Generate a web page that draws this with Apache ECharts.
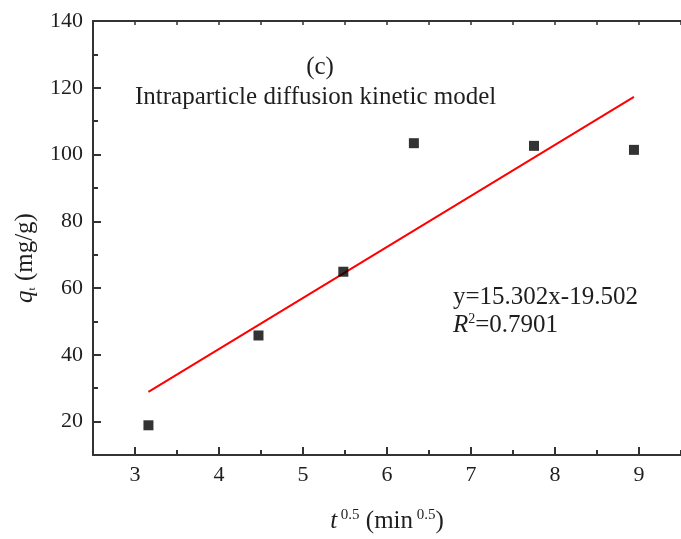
<!DOCTYPE html>
<html>
<head>
<meta charset="utf-8">
<script src="https://cdn.jsdelivr.net/npm/echarts@6/dist/echarts.min.js"></script>
<style>html,body{margin:0;padding:0;background:#fff}#c{width:681px;height:539px}</style>
</head>
<body>
<div id="c"></div>
<script>
// Data
const tValues = [3.16, 4.47, 5.48, 6.32, 7.75, 8.94];      // t^0.5 (min^0.5)
const qtValues = [18.9, 45.8, 64.9, 103.4, 102.6, 101.4];  // qt (mg/g)
const fitX = [3.16, 8.94];
const fitY = [28.9, 117.3];
const xMajorTicks = [3, 4, 5, 6, 7, 8, 9];
const xMinorTicks = [3.5, 4.5, 5.5, 6.5, 7.5, 8.5, 9.5];
const xTopTicks = [3, 3.5, 4, 4.5, 5, 5.5, 6, 6.5, 7, 7.5, 8, 8.5, 9, 9.5];
const yMajorTicks = [20, 40, 60, 80, 100, 120, 140];
const yMinorTicks = [30, 50, 70, 90, 110, 130];
const titleText = '(c)';
const modelText = 'Intraparticle diffusion kinetic model';
const eqText = 'y=15.302x-19.502';
const r2Value = '=0.7901';

const FONT = "'Liberation Serif','Times New Roman',serif";
const TXT = '#1e1e1e';
const AX = '#333';
const BIG = 25;

const chart = echarts.init(document.getElementById('c'), null, {renderer: 'canvas'});
const scatterData = tValues.map((x, i) => [x, qtValues[i]]);
const fitData = fitX.map((x, i) => [x, fitY[i]]);

const baseX = {type: 'value', min: 2.5, max: 9.5, splitLine: {show: false}};
const baseY = {type: 'value', min: 10, max: 140, splitLine: {show: false}};

chart.setOption({
  animation: false,
  backgroundColor: '#fff',
  grid: {left: 93, top: 21, width: 589, height: 437, containLabel: false},
  xAxis: [
    Object.assign({}, baseX, {
      position: 'bottom',
      axisLine: {show: true, onZero: false, lineStyle: {color: AX, width: 2}},
      axisTick: {show: true, inside: true, length: 8, customValues: xMajorTicks, lineStyle: {color: AX, width: 2}},
      axisLabel: {show: true, customValues: xMajorTicks, margin: 9, fontFamily: FONT, fontSize: 22, color: TXT},
      name: '{i|t}{s| 0.5} (min{s| 0.5})',
      nameLocation: 'middle',
      nameGap: 53,
      nameTextStyle: {fontFamily: FONT, fontSize: BIG, color: TXT,
        rich: {i: {fontFamily: FONT, fontSize: BIG, fontStyle: 'italic', color: TXT},
               n: {fontFamily: FONT, fontSize: BIG, color: TXT},
               s: {fontFamily: FONT, fontSize: 15, color: TXT, verticalAlign: 'top', padding: [0, 0, 12, 0]}}}
    }),
    Object.assign({}, baseX, {
      position: 'bottom',
      axisLine: {show: false, onZero: false},
      axisTick: {show: true, inside: true, length: 5, customValues: xMinorTicks, lineStyle: {color: AX, width: 2}},
      axisLabel: {show: false}
    }),
    Object.assign({}, baseX, {
      position: 'top',
      axisLine: {show: true, onZero: false, lineStyle: {color: AX, width: 2}},
      axisTick: {show: true, inside: true, length: 4, customValues: xTopTicks, lineStyle: {color: AX, width: 1.5}},
      axisLabel: {show: false}
    })
  ],
  yAxis: [
    Object.assign({}, baseY, {
      position: 'left',
      axisLine: {show: true, onZero: false, lineStyle: {color: AX, width: 2}},
      axisTick: {show: true, inside: true, length: 8, customValues: yMajorTicks, lineStyle: {color: AX, width: 2}},
      axisLabel: {show: true, customValues: yMajorTicks, margin: 10, fontFamily: FONT, fontSize: 22, color: TXT}
    }),
    Object.assign({}, baseY, {
      position: 'left',
      axisLine: {show: false, onZero: false},
      axisTick: {show: true, inside: true, length: 5, customValues: yMinorTicks, lineStyle: {color: AX, width: 2}},
      axisLabel: {show: false}
    })
  ],
  series: [
    {
      type: 'line', xAxisIndex: 0, yAxisIndex: 0, data: fitData,
      showSymbol: false, symbol: 'none',
      lineStyle: {color: '#ff0000', width: 2}, z: 2
    },
    {
      type: 'scatter', xAxisIndex: 0, yAxisIndex: 0, data: scatterData,
      symbol: 'rect', symbolSize: 10,
      itemStyle: {color: '#000'}, z: 3
    }
  ],
  graphic: [
    {type: 'text', x: 320, y: 67, style: {text: titleText, font: BIG + 'px ' + FONT, fill: TXT, align: 'center', verticalAlign: 'middle'}},
    {type: 'text', x: 135, y: 97, style: {text: modelText, font: BIG + 'px ' + FONT, fill: TXT, align: 'left', verticalAlign: 'middle'}},
    {type: 'text', x: 453, y: 297, style: {text: eqText, font: BIG + 'px ' + FONT, fill: TXT, align: 'left', verticalAlign: 'middle'}},
    {type: 'text', x: 453, y: 325, style: {
      text: '{i|R}{s|2}{n|' + r2Value + '}',
      align: 'left', verticalAlign: 'middle',
      rich: {
        i: {fontFamily: FONT, fontSize: BIG, fontStyle: 'italic', fill: TXT},
        s: {fontFamily: FONT, fontSize: 14, fill: TXT, verticalAlign: 'top', padding: [0, 0, 12, 0]},
        n: {fontFamily: FONT, fontSize: BIG, fill: TXT}
      }
    }},
    {type: 'text', x: 25, y: 258, rotation: Math.PI / 2, style: {
      text: '{i|q}{s|t}{n| (mg/g)}',
      align: 'center', verticalAlign: 'middle',
      rich: {
        i: {fontFamily: FONT, fontSize: BIG, fontStyle: 'italic', fill: TXT},
        s: {fontFamily: FONT, fontSize: 11, fill: TXT, verticalAlign: 'bottom', padding: [10, 0, 0, 0]},
        n: {fontFamily: FONT, fontSize: BIG, fill: TXT}
      }
    }}
  ]
});
</script>
</body>
</html>
